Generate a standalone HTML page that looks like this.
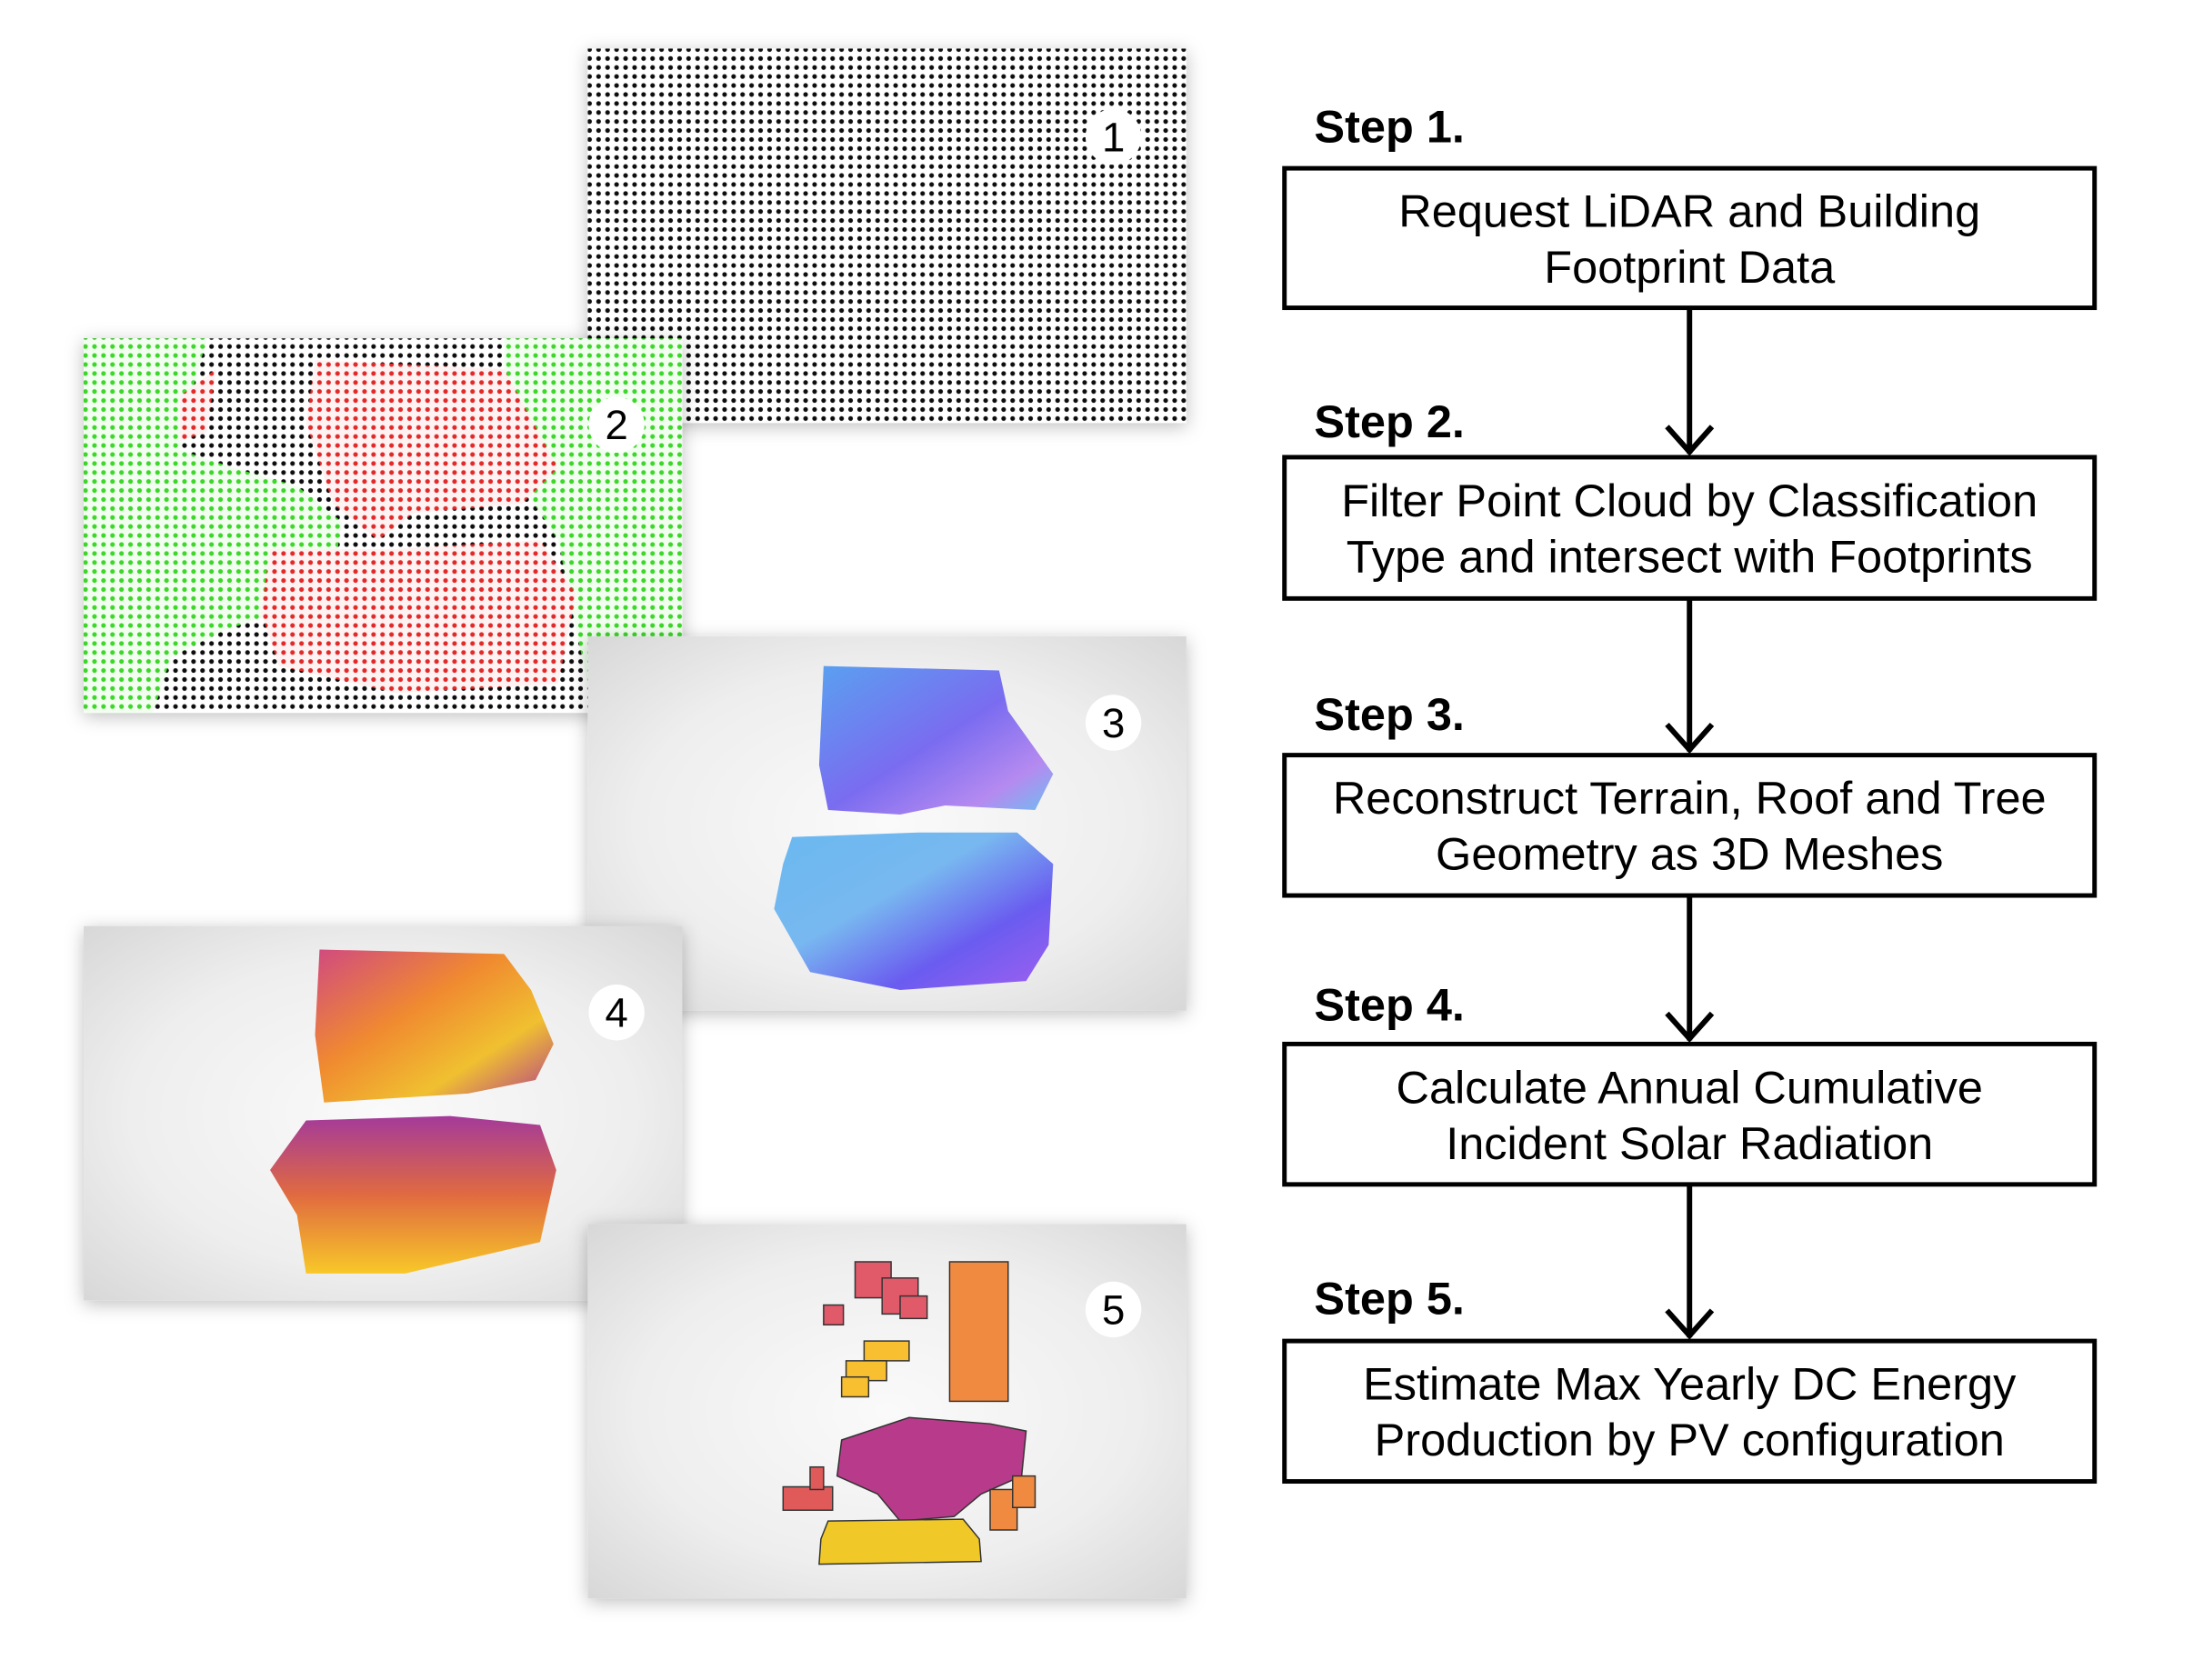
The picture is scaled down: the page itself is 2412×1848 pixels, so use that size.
<!DOCTYPE html>
<html><head><meta charset="utf-8"><style>
html,body{margin:0;padding:0;background:#fff;}
svg{display:block;font-family:"Liberation Sans",Arial,sans-serif;}
</style></head><body>
<svg width="2412" height="1848" viewBox="0 0 2412 1848">
<defs>
<pattern id="pk" width="10" height="10" patternUnits="userSpaceOnUse"><rect width="10" height="10" fill="#fff"/><circle cx="5" cy="5" r="2.6" fill="#111"/></pattern>
<pattern id="pg" width="10" height="10" patternUnits="userSpaceOnUse"><rect width="10" height="10" fill="#f2fff0"/><circle cx="5" cy="5" r="2.6" fill="#3dd62a"/></pattern>
<pattern id="pr" width="10" height="10" patternUnits="userSpaceOnUse"><rect width="10" height="10" fill="#fff2f2"/><circle cx="5" cy="5" r="2.6" fill="#e02a2a"/></pattern>
<filter id="sh" x="-10%" y="-10%" width="120%" height="120%"><feDropShadow dx="0" dy="4" stdDeviation="10" flood-color="#000" flood-opacity="0.25"/></filter>
<linearGradient id="gb1" x1="0" y1="0" x2="1" y2="1"><stop offset="0" stop-color="#5aa0f0"/><stop offset="0.5" stop-color="#7a6cf0"/><stop offset="0.8" stop-color="#b58af0"/><stop offset="1" stop-color="#6ac0f0"/></linearGradient>
<linearGradient id="gb2" x1="0" y1="0" x2="1" y2="1"><stop offset="0" stop-color="#6ab8f0"/><stop offset="0.4" stop-color="#78b8f0"/><stop offset="0.7" stop-color="#6a5cf0"/><stop offset="1" stop-color="#a060f0"/></linearGradient>
<linearGradient id="go1" x1="0" y1="0" x2="1" y2="1"><stop offset="0" stop-color="#d04a80"/><stop offset="0.4" stop-color="#f08a30"/><stop offset="0.7" stop-color="#f0c030"/><stop offset="1" stop-color="#b03a90"/></linearGradient>
<linearGradient id="go2" x1="0" y1="0" x2="0" y2="1"><stop offset="0" stop-color="#a43a9a"/><stop offset="0.5" stop-color="#e06a40"/><stop offset="1" stop-color="#f8c828"/></linearGradient>
<radialGradient id="gt" cx="0.5" cy="0.5" r="0.7"><stop offset="0" stop-color="#fafafa"/><stop offset="0.6" stop-color="#eeeeee"/><stop offset="1" stop-color="#d8d8d8"/></radialGradient>
</defs>
<g transform="scale(0.99)">
<!-- Panel 1 -->
<g>
<rect x="653" y="54" width="665" height="416" fill="url(#pk)" filter="url(#sh)"/>
</g>
<!-- Panel 2 -->
<g>
<rect x="93" y="376" width="665" height="416" fill="url(#pk)" filter="url(#sh)"/>
<path d="M93 376 L230 376 L215 430 L200 500 L260 520 L330 540 L380 580 L370 640 L310 680 L250 700 L190 730 L170 792 L93 792 Z" fill="url(#pg)"/>
<path d="M560 376 L758 376 L758 792 L660 792 L640 700 L620 600 L580 540 L560 470 Z" fill="url(#pg)"/>
<path d="M350 400 L560 410 L620 520 L580 560 L460 570 L420 600 L370 560 L340 470 Z" fill="url(#pr)"/>
<path d="M300 610 L440 610 L600 600 L640 660 L620 760 L440 770 L310 740 L290 680 Z" fill="url(#pr)"/>
<path d="M200 440 L240 410 L230 480 L200 490 Z" fill="url(#pr)"/>
</g>
<!-- Panel 3 -->
<g>
<rect x="653" y="707" width="665" height="416" fill="url(#gt)" filter="url(#sh)"/>
<path d="M915 740 L1110 745 L1120 790 L1170 860 L1150 900 L1050 895 L1000 905 L920 900 L910 850 Z" fill="url(#gb1)"/>
<path d="M880 930 L1020 925 L1130 925 L1170 960 L1165 1050 L1140 1090 L1000 1100 L900 1080 L860 1010 L870 960 Z" fill="url(#gb2)"/>
</g>
<!-- Panel 4 -->
<g>
<rect x="93" y="1029" width="665" height="416" fill="url(#gt)" filter="url(#sh)"/>
<path d="M355 1055 L560 1060 L590 1100 L615 1160 L595 1200 L520 1215 L360 1225 L350 1150 Z" fill="url(#go1)"/>
<path d="M340 1245 L500 1240 L600 1250 L618 1300 L600 1380 L450 1415 L340 1415 L330 1350 L300 1300 Z" fill="url(#go2)"/>
</g>
<!-- Panel 5 -->
<g>
<rect x="653" y="1360" width="665" height="416" fill="url(#gt)" filter="url(#sh)"/>
<g stroke="#333" stroke-width="1.5">
<rect x="950" y="1402" width="40" height="40" fill="#e05a6a"/><rect x="980" y="1420" width="40" height="40" fill="#e05a6a"/><rect x="1000" y="1440" width="30" height="25" fill="#e05a6a"/>
<rect x="915" y="1450" width="22" height="22" fill="#e05a6a"/>
<rect x="1055" y="1402" width="65" height="155" fill="#f08a40"/>
<rect x="960" y="1490" width="50" height="22" fill="#f8c030"/><rect x="940" y="1512" width="45" height="22" fill="#f8c030"/><rect x="935" y="1530" width="30" height="22" fill="#f8c030"/>
<path d="M935 1600 L1010 1575 L1100 1582 L1140 1590 L1135 1640 L1090 1660 L1060 1685 L1000 1690 L975 1660 L930 1640 Z" fill="#b83a8a"/>
<rect x="870" y="1652" width="55" height="26" fill="#e05a5a"/><rect x="900" y="1630" width="15" height="25" fill="#e05a5a"/>
<rect x="1100" y="1655" width="30" height="45" fill="#f08a40"/><rect x="1125" y="1640" width="25" height="35" fill="#f08a40"/>
<path d="M920 1690 L1070 1688 L1088 1710 L1090 1735 L910 1738 L912 1710 Z" fill="#f0c828"/>
</g>
</g>

<!-- number badges -->
<g font-size="46" text-anchor="middle" fill="#000">
<circle cx="1237" cy="152" r="31" fill="#fff"/><text x="1237" y="168">1</text>
<circle cx="685" cy="472" r="31" fill="#fff"/><text x="685" y="488">2</text>
<circle cx="1237" cy="803" r="31" fill="#fff"/><text x="1237" y="819">3</text>
<circle cx="685" cy="1125" r="31" fill="#fff"/><text x="685" y="1141">4</text>
<circle cx="1237" cy="1455" r="31" fill="#fff"/><text x="1237" y="1471">5</text>
</g>

<!-- arrows -->
<g stroke="#000" stroke-width="6" fill="none">
<line x1="1877" y1="342" x2="1877" y2="504"/><polyline points="1852,474 1877,502 1902,474"/>
<line x1="1877" y1="665" x2="1877" y2="835"/><polyline points="1852,805 1877,833 1902,805"/>
<line x1="1877" y1="995" x2="1877" y2="1156"/><polyline points="1852,1126 1877,1154 1902,1126"/>
<line x1="1877" y1="1316" x2="1877" y2="1486"/><polyline points="1852,1456 1877,1484 1902,1456"/>
</g>

<!-- steps -->
<g font-size="51" font-weight="bold" fill="#000">
<text x="1460" y="158">Step 1.</text>
<text x="1460" y="486">Step 2.</text>
<text x="1460" y="811">Step 3.</text>
<text x="1460" y="1134">Step 4.</text>
<text x="1460" y="1460">Step 5.</text>
</g>
<g fill="#fff" stroke="#000" stroke-width="5">
<rect x="1427" y="187" width="900" height="155"/>
<rect x="1427" y="508" width="900" height="157"/>
<rect x="1427" y="839" width="900" height="156"/>
<rect x="1427" y="1160" width="900" height="156"/>
<rect x="1427" y="1490" width="900" height="156"/>
</g>
<g font-size="51" text-anchor="middle" fill="#000">
<text x="1877" y="252">Request LiDAR and Building</text><text x="1877" y="314">Footprint Data</text>
<text x="1877" y="574">Filter Point Cloud by Classification</text><text x="1877" y="636">Type and intersect with Footprints</text>
<text x="1877" y="904">Reconstruct Terrain, Roof and Tree</text><text x="1877" y="966">Geometry as 3D Meshes</text>
<text x="1877" y="1226">Calculate Annual Cumulative</text><text x="1877" y="1288">Incident Solar Radiation</text>
<text x="1877" y="1555">Estimate Max Yearly DC Energy</text><text x="1877" y="1617">Production by PV configuration</text>
</g>
</g>
</svg>
</body></html>
